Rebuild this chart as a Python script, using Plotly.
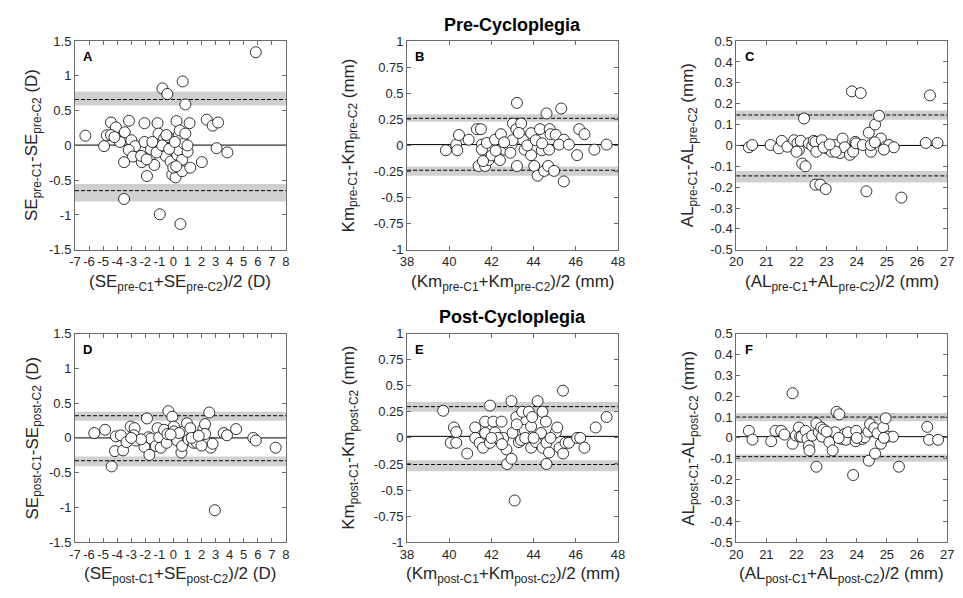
import plotly.graph_objects as go

W, H = 963, 598
FONT = "Liberation Sans, Arial, sans-serif"

# ---------------- data ----------------
# Panel A : SE pre-cycloplegia
a_x = [5.86, 0.66, -0.78, -0.43, 0.85, -6.26, -4.44, -4.09, -3.16, -2.06,
       -1.13, 0.22, 1.15, 2.37, 2.79, 3.18, -4.93, -4.74, -4.44, -3.93,
       -3.46, -2.99, -2.72, -3.18, -2.88, -3.51, -2.25, -2.06, -1.88, -1.71,
       -1.36, -1.60, -1.06, -0.90, -0.66, -0.55, -0.38, -0.20, -0.08, 0.15,
       -0.01, 0.27, 0.38, 0.38, 0.45, 0.62, 0.62, 0.73, 0.85, 1.01,
       1.20, 2.02, 3.07, 3.84, -3.51, -0.97, 0.50, -2.30, -1.90, -1.20,
       -0.80, -0.30, 0.10, -0.50, 1.00, 0.20, -1.50, -3.80, -4.20]
a_y = [1.34, 0.92, 0.82, 0.74, 0.59, 0.14, 0.33, 0.26, 0.355, 0.32,
       0.32, 0.35, 0.32, 0.37, 0.285, 0.33, -0.01, 0.145, 0.15, 0.10,
       0.19, 0.075, -0.01, -0.065, -0.16, -0.24, -0.24, 0.05, -0.44, -0.18,
       -0.28, -0.055, 0.17, -0.02, 0.10, -0.15, 0.12, -0.23, -0.42, -0.46,
       -0.32, -0.135, -0.065, 0.145, 0.215, -0.205, -0.37, 0.03, 0.17, -0.09,
       -0.32, -0.24, -0.04, -0.10, -0.77, -0.99, -1.13, -0.15, -0.20, -0.10,
       0.00, -0.05, 0.05, 0.15, 0.00, -0.30, 0.05, 0.05, 0.12]
a_mean = 0.005
a_loa = [-0.65, 0.66]
a_ci_low = [-0.805, 0.575]
a_ci_high = [-0.555, 0.775]

# Panel B : Km pre-cycloplegia
b_x = [39.84, 40.33, 40.46, 40.38, 40.92, 41.31, 41.39, 41.50, 41.55, 41.55,
       41.70, 41.78, 41.86, 42.01, 42.17, 42.40, 42.45, 42.63, 42.79, 42.95,
       43.02, 43.21, 43.21, 43.18, 43.41, 43.49, 43.57, 43.88, 43.88, 44.03,
       44.19, 44.30, 44.39, 44.50, 44.61, 44.69, 44.73, 44.76, 44.80, 44.97,
       45.05, 45.31, 45.43, 45.43, 45.20, 45.67, 46.06, 46.16, 46.41, 46.88,
       47.46, 43.70, 44.10, 44.40, 42.20, 42.90, 43.00, 41.60, 42.60, 43.30]
b_y = [-0.046, 0.008, 0.10, -0.046, 0.055, 0.156, -0.197, 0.156, 0.008, -0.04,
       -0.197, 0.024, -0.14, -0.096, 0.055, -0.14, 0.108, -0.04, 0.008, 0.008,
       0.21, 0.408, -0.197, 0.156, 0.21, 0.055, -0.04, -0.093, 0.118, -0.197,
       -0.29, 0.156, -0.046, -0.244, 0.307, -0.197, -0.04, 0.156, 0.108, -0.244,
       0.102, 0.354, -0.345, 0.055, 0.008, 0.008, -0.093, 0.156, 0.108, -0.04,
       0.008, 0.00, 0.05, 0.02, -0.05, -0.07, 0.05, -0.15, 0.03, 0.12]
b_mean = 0.008
b_loa = [-0.238, 0.26]
b_ci_low = [-0.29, 0.228]
b_ci_high = [-0.203, 0.30]

# Panel C : AL pre-cycloplegia
c_x = [20.42, 20.53, 21.14, 21.41, 21.51, 21.70, 21.92, 22.03, 22.08, 22.14,
       22.19, 22.25, 22.30, 22.41, 22.52, 22.57, 22.63, 22.63, 22.66, 22.79,
       22.84, 22.97, 23.00, 23.17, 23.28, 23.44, 23.53, 23.60, 23.77, 23.84,
       23.88, 23.95, 23.98, 24.13, 24.20, 24.32, 24.40, 24.47, 24.47, 24.61,
       24.74, 24.80, 24.96, 25.07, 25.23, 25.48, 26.29, 26.43, 26.68, 22.00,
       22.90, 23.30, 24.60, 24.90, 23.10]
c_y = [-0.009, 0.002, 0.002, -0.014, 0.022, -0.006, 0.025, 0.01, -0.022, 0.022,
       -0.087, 0.129, -0.10, 0.01, -0.003, 0.022, 0.017, -0.188, -0.03, -0.188,
       0.025, -0.209, -0.014, -0.03, 0.002, -0.037, 0.033, -0.009, -0.045, 0.259,
       -0.03, 0.017, 0.01, 0.251, 0.002, -0.22, 0.061, -0.03, 0.002, 0.10,
       0.142, 0.033, -0.006, 0.002, -0.009, -0.25, 0.012, 0.24, 0.012, -0.03,
       -0.01, -0.03, 0.015, -0.02, 0.005]
c_mean = 0.0
c_loa = [-0.146, 0.146]
c_ci_low = [-0.178, 0.123]
c_ci_high = [-0.123, 0.168]

# Panel D : SE post-cycloplegia
d_x = [-5.63, -4.86, -4.39, -4.16, -4.09, -3.74, -3.58, -3.34, -3.04, -2.76,
       -2.81, -2.69, -2.06, -1.88, -1.78, -1.71, -1.60, -1.25, -1.13, -1.01,
       -0.90, -0.66, -0.48, -0.43, -0.36, -0.08, 0.03, 0.03, 0.15, 0.27,
       0.57, 0.62, 0.73, 0.97, 1.08, 1.20, 1.43, 1.67, 2.13, 2.25,
       2.25, 2.55, 2.65, 2.79, 2.00, 3.58, 3.81, 4.46, 5.68, 5.86,
       7.27, 2.95, -2.30, 0.40, 1.30, -0.20, 1.80, -3.00]
d_y = [0.07, 0.117, -0.41, -0.19, 0.023, 0.037, -0.18, -0.06, 0.164, 0.14,
       0.037, -0.037, -0.13, 0.28, 0.009, -0.244, -0.009, -0.117, 0.14, 0.009,
       -0.14, 0.117, -0.07, 0.056, 0.384, 0.305, 0.164, 0.094, 0.009, -0.037,
       -0.21, -0.117, 0.094, 0.21, -0.023, 0.14, -0.07, -0.07, 0.13, 0.197,
       0.056, 0.366, -0.14, -0.084, -0.11, 0.07, 0.037, 0.127, 0.0, -0.037,
       -0.14, -1.04, -0.02, 0.07, 0.0, 0.05, 0.03, 0.0]
d_mean = 0.0
d_loa = [-0.328, 0.319]
d_ci_low = [-0.408, 0.248]
d_ci_high = [-0.267, 0.375]

# Panel E : Km post-cycloplegia
e_x = [39.71, 40.07, 40.22, 40.33, 40.33, 40.85, 41.23, 41.23, 41.44, 41.60,
       41.70, 41.70, 41.93, 41.93, 42.09, 42.17, 42.48, 42.56, 42.71, 42.74,
       42.95, 42.95, 43.00, 43.10, 43.18, 43.30, 43.46, 43.57, 43.77, 43.88,
       43.88, 43.93, 44.11, 44.19, 44.35, 44.42, 44.42, 44.58, 44.61, 44.61,
       44.73, 45.05, 45.12, 45.23, 45.39, 45.40, 45.51, 45.67, 46.06, 46.21,
       46.41, 46.94, 47.46, 42.30, 43.40, 43.60, 44.00, 42.00, 42.50, 44.80,
       43.20]
e_y = [0.26, -0.047, 0.10, 0.056, -0.047, -0.15, 0.10, 0.0, -0.047, -0.094,
       0.156, 0.047, 0.31, -0.047, 0.156, 0.053, 0.156, 0.0, -0.11, -0.25,
       0.353, -0.20, 0.047, -0.60, 0.20, -0.04, 0.25, 0.078, 0.25, -0.094,
       0.11, 0.20, -0.04, 0.353, 0.047, 0.25, -0.094, 0.156, -0.047, -0.25,
       -0.14, 0.053, 0.10, -0.094, 0.453, -0.15, -0.047, -0.047, 0.0, 0.0,
       -0.094, 0.10, 0.20, 0.0, -0.02, 0.0, 0.0, 0.0, -0.06, 0.0,
       0.13]
e_mean = 0.015
e_loa = [-0.255, 0.30]
e_ci_low = [-0.32, 0.25]
e_ci_high = [-0.215, 0.345]

# Panel F : AL post-cycloplegia
f_x = [20.42, 20.54, 21.16, 21.30, 21.49, 21.60, 21.87, 21.87, 21.98, 22.08,
       22.12, 22.17, 22.30, 22.36, 22.41, 22.43, 22.52, 22.66, 22.66, 22.74,
       22.82, 22.85, 23.09, 23.20, 23.28, 23.33, 23.42, 23.50, 23.60, 23.64,
       23.71, 23.88, 23.96, 23.98, 24.18, 24.26, 24.39, 24.40, 24.44, 24.58,
       24.61, 24.69, 24.80, 24.88, 24.96, 25.02, 25.20, 25.40, 26.34, 26.40,
       26.70, 22.90, 23.40, 24.00, 23.00, 24.90]
f_y = [0.034, -0.008, -0.016, 0.034, 0.034, 0.016, 0.214, -0.028, 0.011, 0.05,
       0.006, 0.006, 0.034, -0.005, -0.039, -0.06, 0.011, 0.069, -0.138, 0.027,
       0.05, 0.006, -0.02, -0.06, 0.027, 0.125, 0.113, -0.005, 0.019, -0.009,
       0.027, -0.178, -0.016, 0.034, -0.005, 0.003, 0.03, -0.109, 0.066, 0.047,
       -0.075, 0.022, -0.028, 0.05, 0.094, 0.006, 0.006, -0.138, 0.053, -0.009,
       -0.009, 0.04, 0.0, 0.0, 0.03, 0.0]
f_mean = 0.006
f_loa = [-0.09, 0.10]
f_ci_low = [-0.114, 0.08]
f_ci_high = [-0.078, 0.12]

# ---------------- tick labels ----------------
se_x_vals = [-7, -6, -5, -4, -3, -2, -1, 0, 1, 2, 3, 4, 5, 6, 7, 8]
se_x_text = ["-7", "-6", "-5", "-4", "-3", "-2", "-1", "0", "1", "2", "3", "4", "5", "6", "7", "8"]
se_y_vals = [-1.5, -1, -0.5, 0, 0.5, 1, 1.5]
se_y_text = ["-1.5", "-1", "-0.5", "0", "0.5", "1", "1.5"]
km_x_vals = [38, 40, 42, 44, 46, 48]
km_x_text = ["38", "40", "42", "44", "46", "48"]
km_y_vals = [-1, -0.75, -0.5, -0.25, 0, 0.25, 0.5, 0.75, 1]
km_y_text = ["-1", "-0.75", "-0.5", "-0.25", "0", "0.25", "0.5", "0.75", "1"]
al_x_vals = [20, 21, 22, 23, 24, 25, 26, 27]
al_x_text = ["20", "21", "22", "23", "24", "25", "26", "27"]
al_y_vals = [-0.5, -0.4, -0.3, -0.2, -0.1, 0, 0.1, 0.2, 0.3, 0.4, 0.5]
al_y_text = ["-0.5", "-0.4", "-0.3", "-0.2", "-0.1", "0", "0.1", "0.2", "0.3", "0.4", "0.5"]

row_titles = ["Pre-Cycloplegia", "Post-Cycloplegia"]
panel_letters = ["A", "B", "C", "D", "E", "F"]

# ---------------- layout geometry (pixels) ----------------
col_left = [69, 406, 740]
plot_w = 214
row_top = [35, 335]
plot_h = 214
ylab_x = [27, 348, 693]

def xdom(c):
    return [col_left[c] / W, (col_left[c] + plot_w) / W]

def ydom(r):
    return [1 - (row_top[r] + plot_h) / H, 1 - row_top[r] / H]

panels = [
    dict(x=a_x, y=a_y, mean=a_mean, loa=a_loa, lo=a_ci_low, hi=a_ci_high,
         xr=[-7, 8], yr=[-1.5, 1.5], xv=se_x_vals, xt=se_x_text, yv=se_y_vals, yt=se_y_text,
         m="SE", s="pre", u="D"),
    dict(x=b_x, y=b_y, mean=b_mean, loa=b_loa, lo=b_ci_low, hi=b_ci_high,
         xr=[38, 48], yr=[-1, 1], xv=km_x_vals, xt=km_x_text, yv=km_y_vals, yt=km_y_text,
         m="Km", s="pre", u="mm"),
    dict(x=c_x, y=c_y, mean=c_mean, loa=c_loa, lo=c_ci_low, hi=c_ci_high,
         xr=[20, 27], yr=[-0.5, 0.5], xv=al_x_vals, xt=al_x_text, yv=al_y_vals, yt=al_y_text,
         m="AL", s="pre", u="mm"),
    dict(x=d_x, y=d_y, mean=d_mean, loa=d_loa, lo=d_ci_low, hi=d_ci_high,
         xr=[-7, 8], yr=[-1.5, 1.5], xv=se_x_vals, xt=se_x_text, yv=se_y_vals, yt=se_y_text,
         m="SE", s="post", u="D"),
    dict(x=e_x, y=e_y, mean=e_mean, loa=e_loa, lo=e_ci_low, hi=e_ci_high,
         xr=[38, 48], yr=[-1, 1], xv=km_x_vals, xt=km_x_text, yv=km_y_vals, yt=km_y_text,
         m="Km", s="post", u="mm"),
    dict(x=f_x, y=f_y, mean=f_mean, loa=f_loa, lo=f_ci_low, hi=f_ci_high,
         xr=[20, 27], yr=[-0.5, 0.5], xv=al_x_vals, xt=al_x_text, yv=al_y_vals, yt=al_y_text,
         m="AL", s="post", u="mm"),
]

fig = go.Figure()
shapes = []
annotations = []
layout_axes = {}

AXCOL = "#6b6b6b"
TICKFONT = dict(family=FONT, size=13, color="#262626")
LABFONT = dict(family=FONT, size=17, color="#262626")

for i, p in enumerate(panels):
    r, c = divmod(i, 3)
    sfx = "" if i == 0 else str(i + 1)
    xa, ya = "x" + sfx, "y" + sfx
    fig.add_trace(go.Scatter(
        x=p["x"], y=p["y"], mode="markers", xaxis=xa, yaxis=ya, showlegend=False,
        marker=dict(size=11, color="white", line=dict(color="black", width=0.8)),
    ))
    common = dict(showgrid=False, zeroline=False, showline=True, linecolor=AXCOL, linewidth=1,
                  mirror="ticks", ticks="inside", ticklen=4, tickcolor=AXCOL, tickwidth=1,
                  tickfont=TICKFONT)
    layout_axes["xaxis" + sfx] = dict(domain=xdom(c), range=p["xr"], anchor=ya,
                                      tickmode="array", tickvals=p["xv"], ticktext=p["xt"], **common)
    layout_axes["yaxis" + sfx] = dict(domain=ydom(r), range=p["yr"], anchor=xa,
                                      tickmode="array", tickvals=p["yv"], ticktext=p["yt"], **common)
    # confidence bands around limits of agreement
    for lo, hi in zip(p["lo"], p["hi"]):
        shapes.append(dict(type="rect", xref=xa + " domain", yref=ya, x0=0, x1=1, y0=lo, y1=hi,
                           fillcolor="#d0d0d0", line=dict(width=0), layer="below"))
    for v in p["loa"]:
        shapes.append(dict(type="line", xref=xa + " domain", yref=ya, x0=0, x1=1, y0=v, y1=v,
                           line=dict(color="black", width=1, dash="4px,2px"), layer="below"))
    shapes.append(dict(type="line", xref=xa + " domain", yref=ya, x0=0, x1=1,
                       y0=p["mean"], y1=p["mean"], line=dict(color="black", width=1), layer="below"))
    # panel letter
    annotations.append(dict(text="<b>%s</b>" % panel_letters[i], xref=xa + " domain", yref=ya + " domain",
                            x=0.03, y=0.925, xanchor="left", yanchor="middle", showarrow=False,
                            font=dict(family=FONT, size=13, color="black")))
    m, s, u = p["m"], p["s"], p["u"]
    xlab = "(%s<sub>%s-C1</sub>+%s<sub>%s-C2</sub>)/2 (%s)" % (m, s, m, s, u)
    ylab = "%s<sub>%s-C1</sub>-%s<sub>%s-C2</sub> (%s)" % (m, s, m, s, u)
    xd = xdom(c)
    yd = ydom(r)
    annotations.append(dict(text=xlab, xref="paper", yref="paper",
                            x=(xd[0] + xd[1]) / 2, y=1 - (row_top[r] + plot_h + 34) / H,
                            xanchor="center", yanchor="middle", showarrow=False, font=LABFONT))
    annotations.append(dict(text=ylab, xref="paper", yref="paper", textangle=-90,
                            x=ylab_x[c] / W, y=(yd[0] + yd[1]) / 2,
                            xanchor="center", yanchor="middle", showarrow=False, font=LABFONT))

for r, t in enumerate(row_titles):
    xd = xdom(1)
    annotations.append(dict(text="<b>%s</b>" % t, xref="paper", yref="paper",
                            x=(xd[0] + xd[1]) / 2, y=1 - (row_top[r] - 17) / H,
                            xanchor="center", yanchor="middle", showarrow=False,
                            font=dict(family=FONT, size=18, color="black")))

fig.update_layout(
    width=W, height=H, margin=dict(l=0, r=0, t=0, b=0),
    paper_bgcolor="white", plot_bgcolor="white",
    shapes=shapes, annotations=annotations, **layout_axes,
)

fig.write_html("out.html")
